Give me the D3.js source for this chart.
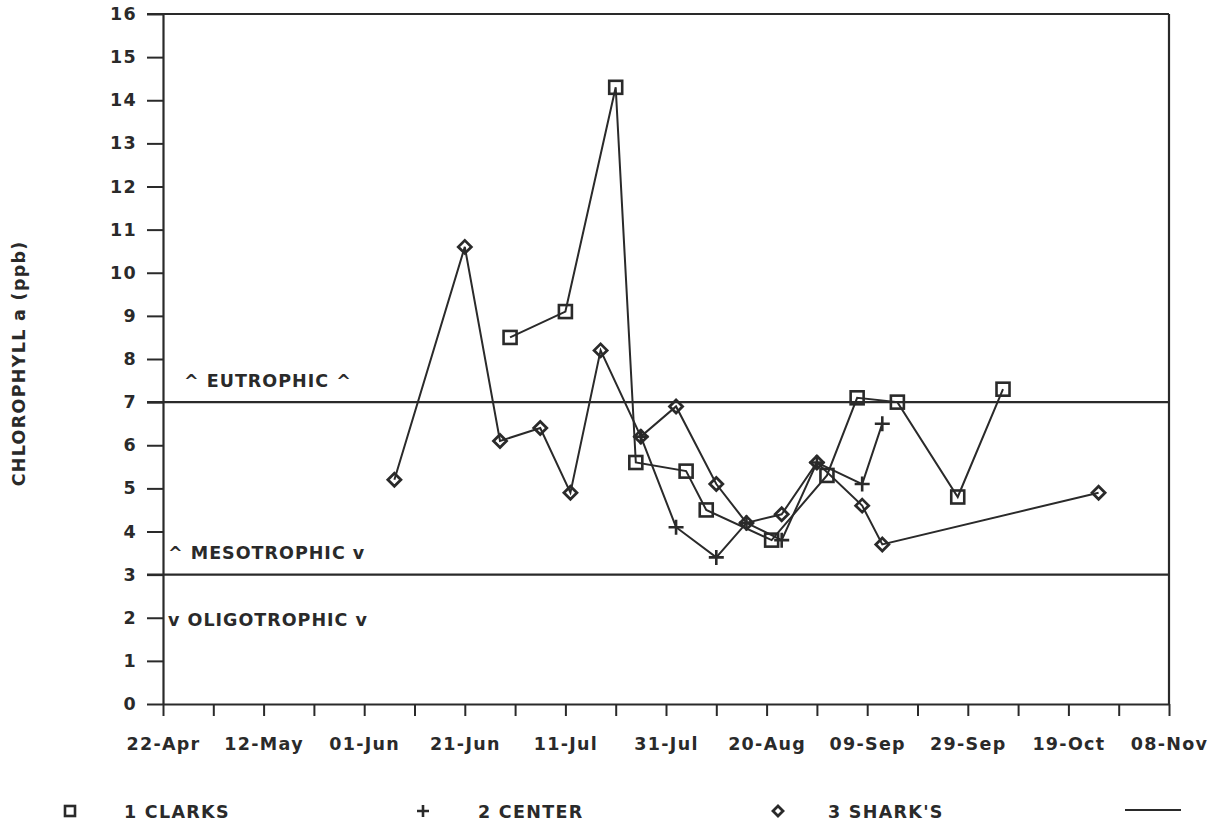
<!DOCTYPE html>
<html>
<head>
<meta charset="utf-8">
<script src="https://cdn.jsdelivr.net/npm/d3@7"></script>
<style>
  html, body { margin: 0; padding: 0; background: #fff; }
  svg { display: block; }
  text { font-family: "DejaVu Sans", "Liberation Sans", sans-serif; font-weight: bold; fill: #2a2a2a; }
</style>
</head>
<body>
<svg id="chart" width="1227" height="823"></svg>
<script>
// ---------------- DATA ----------------
const year = 1990;
const xTickLabels = ["22-Apr","12-May","01-Jun","21-Jun","11-Jul","31-Jul","20-Aug","09-Sep","29-Sep","19-Oct","08-Nov"];
const yTicks = [0,1,2,3,4,5,6,7,8,9,10,11,12,13,14,15,16];

const clarksDates  = ["30-Jun","11-Jul","21-Jul","25-Jul","04-Aug","08-Aug","21-Aug","01-Sep","07-Sep","15-Sep","27-Sep","06-Oct"];
const clarksValues = [8.5, 9.1, 14.3, 5.6, 5.4, 4.5, 3.8, 5.3, 7.1, 7.0, 4.8, 7.3];

const centerDates  = ["26-Jul","02-Aug","10-Aug","16-Aug","23-Aug","30-Aug","08-Sep","12-Sep"];
const centerValues = [6.2, 4.1, 3.4, 4.2, 3.8, 5.6, 5.1, 6.5];

const sharksDates  = ["07-Jun","21-Jun","28-Jun","06-Jul","12-Jul","18-Jul","26-Jul","02-Aug","10-Aug","16-Aug","23-Aug","30-Aug","08-Sep","12-Sep","25-Oct"];
const sharksValues = [5.2, 10.6, 6.1, 6.4, 4.9, 8.2, 6.2, 6.9, 5.1, 4.2, 4.4, 5.6, 4.6, 3.7, 4.9];

const seriesNames = ["1 CLARKS", "2 CENTER", "3 SHARK'S"];
const trophicLevels = [7, 3];
const trophicLabels = [
  {text: "^ EUTROPHIC ^", v: 7.5},
  {text: "^ MESOTROPHIC v", v: 3.5},
  {text: "v OLIGOTROPHIC v", v: 1.95}
];
const yTitle = "CHLOROPHYLL a (ppb)";

// ---------------- SETUP ----------------
(function () {
const parse = s => d3.timeParse("%d-%b-%Y")(s + "-" + year);
const svg = d3.select("#chart");
const ink = "#2a2a2a";
const pL = 163, pR = 1169, pT = 14, pB = 704;

const xDomain = [parse(xTickLabels[0]), parse(xTickLabels[xTickLabels.length - 1])];
const x = d3.scaleTime().domain(xDomain).range([pL, pR]);
const y = d3.scaleLinear().domain([0, 16]).range([pB, pT]);

// x ticks every 10 days
const xTickDates = d3.timeDay.range(xDomain[0], d3.timeDay.offset(xDomain[1], 1)).filter((d, i) => i % 10 === 0);
const labelSet = new Set(xTickLabels.map(s => +parse(s)));
const fmt = d3.timeFormat("%d-%b");

const xAxis = d3.axisBottom(x)
  .tickValues(xTickDates)
  .tickSize(12)
  .tickSizeOuter(0)
  .tickPadding(22)
  .tickFormat(d => labelSet.has(+d) ? fmt(d) : "");
const gx = svg.append("g").attr("transform", `translate(0,${pB})`).call(xAxis);
gx.selectAll("path.domain").attr("stroke", ink).attr("stroke-width", 2.2);
gx.selectAll(".tick line").attr("stroke", ink).attr("stroke-width", 2);
gx.selectAll(".tick text").attr("font-size", 17.5).attr("letter-spacing", 1.3).attr("fill", ink)
  .style("font-family", '"DejaVu Sans", sans-serif').style("font-weight", "bold");

const yAxis = d3.axisLeft(y).tickValues(yTicks).tickSize(16).tickSizeOuter(0).tickPadding(10).tickFormat(d3.format("d"));
const gy = svg.append("g").attr("transform", `translate(${pL},0)`).call(yAxis);
gy.selectAll("path.domain").attr("stroke", ink).attr("stroke-width", 2.2);
gy.selectAll(".tick line").attr("stroke", ink).attr("stroke-width", 2);
gy.selectAll(".tick text").attr("font-size", 17.5).attr("letter-spacing", 1.3).attr("fill", ink)
  .style("font-family", '"DejaVu Sans", sans-serif').style("font-weight", "bold");

// frame: top and right
svg.append("line").attr("x1", pL - 16).attr("x2", pR).attr("y1", y(16)).attr("y2", y(16))
  .attr("stroke", ink).attr("stroke-width", 2.2);
svg.append("line").attr("x1", pR).attr("x2", pR).attr("y1", y(16)).attr("y2", y(0))
  .attr("stroke", ink).attr("stroke-width", 2.2);

// trophic lines
svg.selectAll("line.troph").data(trophicLevels).enter().append("line")
  .attr("x1", pL - 16).attr("x2", pR)
  .attr("y1", d => y(d)).attr("y2", d => y(d))
  .attr("stroke", ink).attr("stroke-width", 2.4);

svg.selectAll("text.troph").data(trophicLabels).enter().append("text")
  .attr("x", (d, i) => i === 0 ? 184 : 168)
  .attr("y", d => y(d.v))
  .attr("dy", "0.35em")
  .attr("font-size", 17.5).attr("letter-spacing", 1)
  .text(d => d.text);

// y title
svg.append("text")
  .attr("transform", `translate(25,${y(7.9)}) rotate(-90)`)
  .attr("text-anchor", "middle")
  .attr("font-size", 17.5).attr("letter-spacing", 1.3)
  .text(yTitle);

// ---------------- SERIES ----------------
function mkSeries(dates, values) {
  return dates.map((d, i) => ({date: parse(d), v: values[i]}));
}
const series = [
  {name: seriesNames[0], data: mkSeries(clarksDates, clarksValues), marker: "square"},
  {name: seriesNames[1], data: mkSeries(centerDates, centerValues), marker: "plus"},
  {name: seriesNames[2], data: mkSeries(sharksDates, sharksValues), marker: "diamond"}
];

const line = d3.line().x(d => x(d.date)).y(d => y(d.v));

function drawMarker(g, type, cx, cy, s) {
  if (type === "square") {
    g.append("rect").attr("x", cx - s / 2).attr("y", cy - s / 2).attr("width", s).attr("height", s)
      .attr("fill", "none").attr("stroke", ink).attr("stroke-width", 2.6);
  } else if (type === "plus") {
    g.append("path").attr("d", `M${cx - s / 2},${cy}H${cx + s / 2}M${cx},${cy - s / 2}V${cy + s / 2}`)
      .attr("stroke", ink).attr("stroke-width", 2.6).attr("fill", "none");
  } else {
    const r = s / 2;
    g.append("path").attr("d", `M${cx},${cy - r}L${cx + r},${cy}L${cx},${cy + r}L${cx - r},${cy}Z`)
      .attr("stroke", ink).attr("stroke-width", 2.8).attr("fill", "none");
  }
}

series.forEach(s => {
  svg.append("path").datum(s.data).attr("d", line)
    .attr("fill", "none").attr("stroke", ink).attr("stroke-width", 2);
  const g = svg.append("g");
  s.data.forEach(d => {
    drawMarker(g, s.marker, x(d.date), y(d.v), s.marker === "square" ? 13 : (s.marker === "plus" ? 15 : 13));
  });
});

// ---------------- LEGEND ----------------
const legY = 812;
const legItems = [
  {marker: "square", mx: 70, tx: 124, text: seriesNames[0]},
  {marker: "plus", mx: 423, tx: 478, text: seriesNames[1]},
  {marker: "diamond", mx: 778, tx: 828, text: seriesNames[2]}
];
const lg = svg.append("g");
legItems.forEach(it => {
  drawMarker(lg, it.marker, it.mx, legY - 1, it.marker === "plus" ? 12 : 10);
  lg.append("text").attr("x", it.tx).attr("y", legY).attr("dy", "0.35em")
    .attr("font-size", 17.5).attr("letter-spacing", 1.3).text(it.text);
});
lg.append("line").attr("x1", 1125).attr("x2", 1181).attr("y1", legY - 2).attr("y2", legY - 2)
  .attr("stroke", ink).attr("stroke-width", 2);
})();
</script>
</body>
</html>
